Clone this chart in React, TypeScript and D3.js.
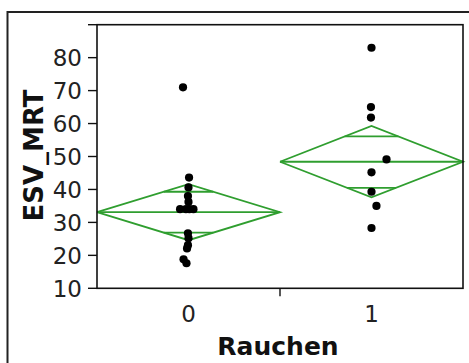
import React from "react";
import * as d3 from "d3";

// ---- data ----
const categories = ["0", "1"];
const yTicks = [10, 20, 30, 40, 50, 60, 70, 80];

// raw observations per group (ESV_MRT), with small horizontal jitter (fraction of band)
const group0Values = [71, 43.6, 40.6, 38, 36.2, 34, 34, 34, 34, 26.7, 25.2, 23.1, 22.1, 18.8, 17.6];
const group0Jitter = [-0.03, 0.003, 0, -0.003, 0, -0.046, -0.014, 0.027, 0.005, -0.003, 0, -0.003, -0.008, -0.027, -0.011];
const group1Values = [83, 65, 61.8, 49.1, 45.2, 39.3, 35, 28.3];
const group1Jitter = [0, -0.003, -0.003, 0.082, 0, 0, 0.027, 0];

// means diamonds: mean, upper/lower CI, overlap marks
const diamondMeans = [33.1, 48.4];
const diamondUpper = [41.6, 59.3];
const diamondLower = [24.6, 37.6];
const overlapUpper = [39.3, 56.1];
const overlapLower = [26.9, 40.5];

const W = 469, H = 363;
const plot = { left: 97, right: 463, top: 24.7, bottom: 288.3 };
const GREEN = "#2f9e2f";
const FONT = "'DejaVu Sans', Verdana, sans-serif";

export default function App() {
  const x = d3.scaleBand<string>().domain(categories).range([plot.left, plot.right]).padding(0);
  const y = d3.scaleLinear().domain([10, 90]).range([plot.bottom, plot.top]);
  const bw = x.bandwidth();

  const groups = [
    { vals: group0Values, jit: group0Jitter },
    { vals: group1Values, jit: group1Jitter },
  ];

  const line = d3.line<[number, number]>();

  return (
    <svg width={W} height={H} style={{ position: "absolute", left: 0, top: 0, background: "#fff" }}>
      {/* outer frame */}
      <rect x={7.5} y={12} width={W + 20} height={H + 20} fill="none" stroke="#222" strokeWidth={2} />

      {/* diamonds */}
      {categories.map((c, i) => {
        const l = x(c)!;
        const r = l + bw;
        const cx = l + bw / 2;
        const m = diamondMeans[i];
        const halfSpan = diamondUpper[i] - m;
        const mark = (v: number) => {
          const hw = (bw / 2) * (1 - Math.abs(v - m) / (v > m ? halfSpan : m - diamondLower[i]));
          return line([[cx - hw, y(v)], [cx + hw, y(v)]])!;
        };
        const poly = line([
          [l, y(m)], [cx, y(diamondUpper[i])], [r, y(m)], [cx, y(diamondLower[i])], [l, y(m)],
        ])!;
        return (
          <g key={c} fill="none" stroke={GREEN} strokeWidth={1.8}>
            <path d={poly} />
            <path d={line([[l, y(m)], [r, y(m)]])!} />
            <path d={mark(overlapUpper[i])} />
            <path d={mark(overlapLower[i])} />
          </g>
        );
      })}

      {/* points */}
      {groups.map((g, i) =>
        g.vals.map((v, j) => (
          <circle key={`${i}-${j}`} cx={x(categories[i])! + bw / 2 + g.jit[j] * bw} cy={y(v)} r={4.1} fill="#000" />
        ))
      )}

      {/* plot frame */}
      <rect x={plot.left} y={plot.top} width={plot.right - plot.left} height={plot.bottom - plot.top} fill="none" stroke="#111" strokeWidth={1.6} />

      {/* y axis ticks */}
      {yTicks.map((t) => (
        <g key={t}>
          <line x1={plot.left - 9} x2={plot.left} y1={y(t)} y2={y(t)} stroke="#111" strokeWidth={1.4} />
          <text x={82} y={y(t)} dy="0.36em" textAnchor="end" fontFamily={FONT} fontSize={23} fill="#222">{t}</text>
        </g>
      ))}
      <line x1={plot.left - 9} x2={plot.left} y1={y(90)} y2={y(90)} stroke="#111" strokeWidth={1.4} />

      {/* x axis: boundary tick and category labels */}
      <line x1={x(categories[1])!} x2={x(categories[1])!} y1={plot.bottom} y2={plot.bottom + 8} stroke="#111" strokeWidth={1.4} />
      {categories.map((c) => (
        <text key={c} x={x(c)! + bw / 2} y={321.5} textAnchor="middle" fontFamily={FONT} fontSize={23} fill="#222">{c}</text>
      ))}

      {/* axis titles */}
      <text x={278} y={355} textAnchor="middle" fontFamily={FONT} fontSize={25} fontWeight="bold" fill="#111">Rauchen</text>
      <text transform={`translate(43,155.5) rotate(-90)`} textAnchor="middle" fontFamily={FONT} fontSize={26} fontWeight="bold" fill="#111">ESV_MRT</text>
    </svg>
  );
}
